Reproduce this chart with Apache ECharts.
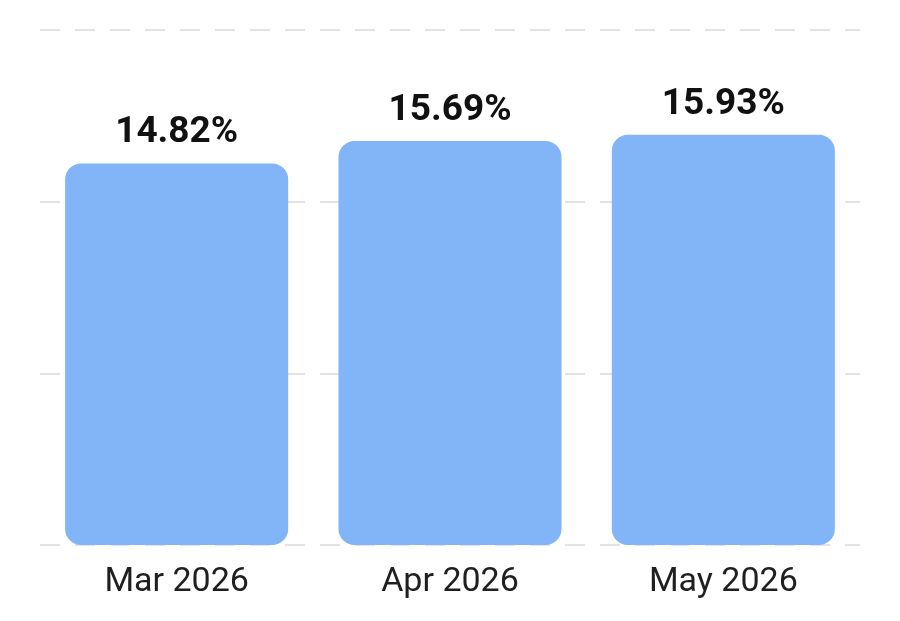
<!DOCTYPE html>
<html>
<head>
<meta charset="utf-8">
<script src="https://cdn.jsdelivr.net/npm/echarts@6/dist/echarts.min.js"></script>
<style>
  html, body { margin: 0; padding: 0; background: #fff; }
  #main { width: 900px; height: 621px; }
</style>
</head>
<body>
<div id="main"></div>
<script>
var months = ['Mar 2026', 'Apr 2026', 'May 2026'];
var rates = [14.82, 15.69, 15.93];

var option = {
    animation: false,
    grid: { left: 40, right: 40, top: 30, bottom: 76 },
    xAxis: {
        type: 'category',
        data: months,
        axisLine: { show: false },
        axisTick: { show: false },
        axisLabel: {
            color: '#1f1f1f',
            fontFamily: 'Roboto',
            fontSize: 34,
            margin: 20
        }
    },
    yAxis: {
        type: 'value',
        min: 0,
        max: 20,
        interval: 20 / 3,
        axisLabel: { show: false },
        axisLine: { show: false },
        axisTick: { show: false },
        splitLine: {
            lineStyle: { color: '#e3e3e3', width: 2, type: [20, 15] }
        }
    },
    series: [{
        type: 'bar',
        data: rates,
        barWidth: '81.6%',
        itemStyle: { color: '#82b4f8', borderRadius: 16 },
        label: {
            show: true,
            position: 'top',
            distance: 12,
            formatter: function (p) { return p.value.toFixed(2) + '%'; },
            color: '#111',
            fontFamily: 'Roboto',
            fontWeight: 'bold',
            fontSize: 37
        }
    }]
};

echarts.init(document.getElementById('main')).setOption(option);
</script>
</body>
</html>
